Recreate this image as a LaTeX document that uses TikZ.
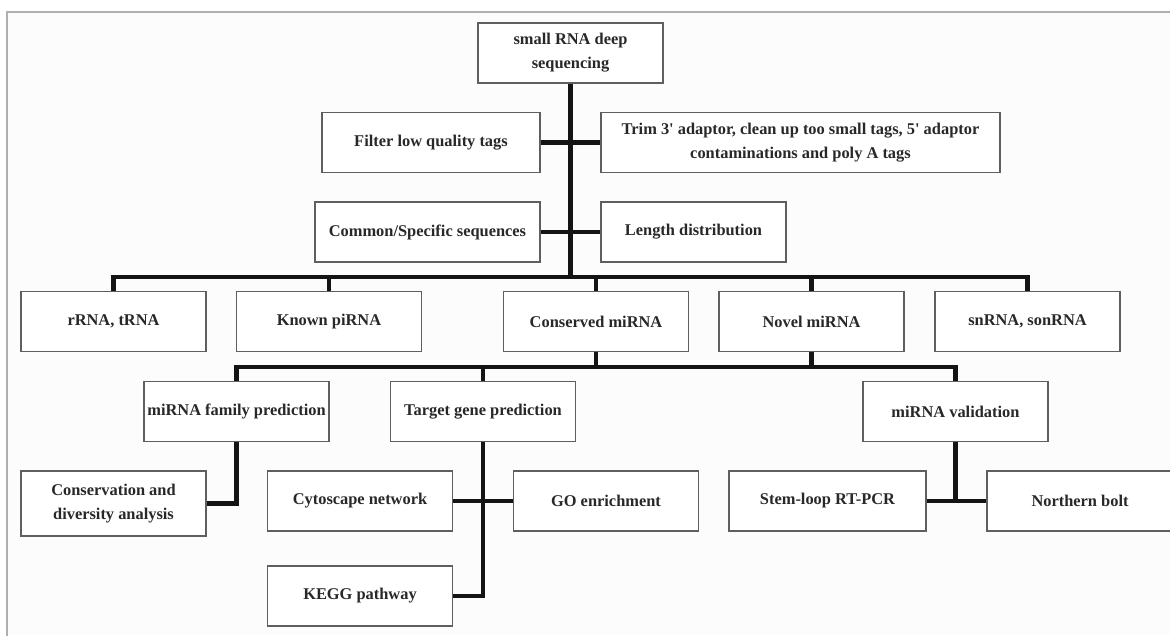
\documentclass[tikz,border=0pt]{standalone}
\usepackage{fontspec}
\setmainfont{Liberation Serif}
\definecolor{boxline}{RGB}{95,95,95}
\definecolor{txt}{RGB}{40,40,40}
\definecolor{conncol}{RGB}{20,20,20}
\definecolor{framecol}{RGB}{175,175,175}
\definecolor{inner}{RGB}{252,252,252}
\begin{document}
\begin{tikzpicture}[x=1pt,y=-1pt,
  box/.style={draw=boxline, line width=1.4pt, fill=white, text=txt,
    font=\fontsize{16.4}{24}\selectfont\bfseries, align=center,
    inner sep=0pt, minimum height=60pt, minimum width=185pt},
  conn/.style={draw=conncol, line width=4.8pt, line join=miter, line cap=butt}]
\useasboundingbox (0,0) rectangle (1170,635);
\clip (0,0) rectangle (1170,635);
\fill[white] (0,0) rectangle (1170,635);
\fill[inner] (7,12) rectangle (1170,635);
\draw[framecol, line width=1.5pt] (1171,12) -- (7,12) -- (7,636);

% nodes
\node[box] (top) at (570.5,53) {small RNA deep\\sequencing};
\node[box, minimum width=218pt] (filter) at (431,142.5) {Filter low quality tags};
\node[box, minimum width=399pt] (trim) at (800.5,142.5) {Trim 3\textquotesingle{} adaptor, clean up too small tags, 5\textquotesingle{} adaptor\\contaminations and poly A tags};
\node[box, minimum width=225pt] (common) at (427.5,232) {Common/Specific sequences};
\node[box] (length) at (693.5,232) {Length distribution};

\node[box] (rrna) at (113.5,321.5) {rRNA, tRNA};
\node[box] (known) at (329,321.5) {Known piRNA};
\node[box] (conserved) at (596,321.5) {Conserved miRNA};
\node[box] (novel) at (811.5,321.5) {Novel miRNA};
\node[box] (snrna) at (1027.5,321.5) {snRNA, sonRNA};

\node[box] (family) at (236.5,411.5) {miRNA family prediction};
\node[box] (target) at (483,411.5) {Target gene prediction};
\node[box] (validation) at (955.5,411.5) {miRNA validation};

\node[box, minimum height=65pt] (conservation) at (113.5,503.5) {Conservation and\\diversity analysis};
\node[box] (cytoscape) at (360,501) {Cytoscape network};
\node[box] (go) at (606,501) {GO enrichment};
\node[box, minimum width=197pt] (stem) at (827.5,501) {Stem-loop RT-PCR};
\node[box, minimum width=186pt] (northern) at (1080,501) {Northern bolt};
\node[box] (kegg) at (360,596) {KEGG pathway};

\coordinate (busA) at (570.5,277);
\coordinate (busB) at (570.5,367);

% connectors
\draw[conn] (top.south) -- (top.south |- busA);
\draw[conn] (filter.east) -- (trim.west);
\draw[conn] (common.east) -- (length.west);
\draw[conn] (rrna.north) -- (rrna.north |- busA) -- (snrna.north |- busA) -- (snrna.north);
\draw[conn] (known.north) -- (known.north |- busA);
\draw[conn] (conserved.north) -- (conserved.north |- busA);
\draw[conn] (novel.north) -- (novel.north |- busA);

\draw[conn] (family.north) -- (family.north |- busB) -- (validation.north |- busB) -- (validation.north);
\draw[conn] (conserved.south) -- (conserved.south |- busB);
\draw[conn] (novel.south) -- (novel.south |- busB);
\draw[conn] (target.north) -- (target.north |- busB);

\draw[conn] (family.south) |- (conservation.east);
\draw[conn] (target.south) |- (kegg.east);
\draw[conn] (cytoscape.east) -- (go.west);
\draw[conn] (validation.south) -- (validation.south |- stem.east);
\draw[conn] (stem.east) -- (northern.west);
\end{tikzpicture}
\end{document}
